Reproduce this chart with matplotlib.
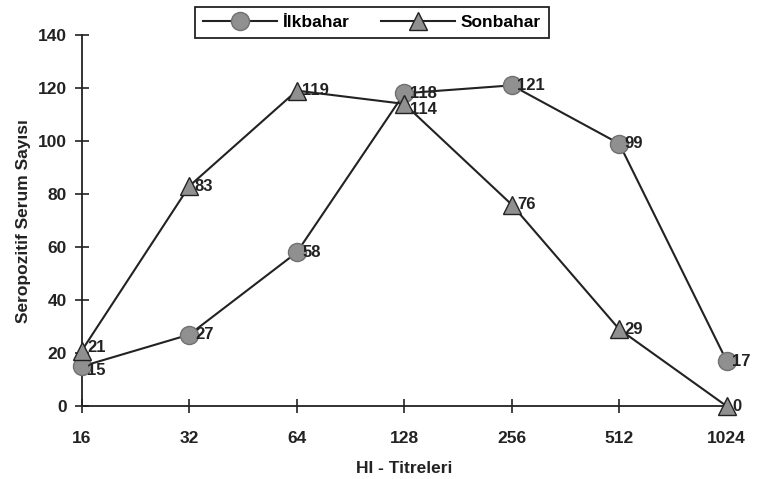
import matplotlib
matplotlib.use('Agg')

import matplotlib.pyplot as plt

titres = ['16', '32', '64', '128', '256', '512', '1024']
ilkbahar = [15, 27, 58, 118, 121, 99, 17]
sonbahar = [21, 83, 119, 114, 76, 29, 0]

plt.rcParams['font.family'] = ['Liberation Sans', 'DejaVu Sans']
plt.rcParams['font.weight'] = 'bold'

fig = plt.figure(figsize=(7.65, 4.79), dpi=100)
ax = fig.add_axes([0.107, 0.152, 0.843, 0.775])

x = list(range(len(titres)))
ax.plot(x, ilkbahar, color='#222222', lw=1.5, marker='o', markersize=13,
        markerfacecolor='#909090', markeredgecolor='#707070', label='İlkbahar', zorder=3)
ax.plot(x, sonbahar, color='#222222', lw=1.5, marker='^', markersize=13,
        markerfacecolor='#909090', markeredgecolor='#222222', label='Sonbahar', zorder=3)

# etiketler
for i, v in enumerate(ilkbahar):
    dy = -3 if i == 0 else 0
    ax.annotate(str(v), (i, v), xytext=(4, dy), textcoords='offset points',
                ha='left', va='center', fontsize=12, fontweight='bold', color='#222222')
for i, v in enumerate(sonbahar):
    dy = 2 if i == 0 else (-4 if i == 3 else 0)
    ax.annotate(str(v), (i, v), xytext=(4, dy), textcoords='offset points',
                ha='left', va='center', fontsize=12, fontweight='bold', color='#222222')

ax.set_xlim(0, 6)
ax.set_ylim(0, 140)
ax.set_xticks(x)
ax.set_xticklabels(titres)
ax.set_yticks(range(0, 141, 20))
ax.spines['top'].set_visible(False)
ax.spines['right'].set_visible(False)
for s in ['left', 'bottom']:
    ax.spines[s].set_linewidth(1.3)
    ax.spines[s].set_color('#222222')
ax.tick_params(direction='inout', length=10, width=1.2, labelsize=12.5, colors='#222222')
ax.tick_params(axis='x', pad=13)
ax.tick_params(axis='y', pad=6)
for lab in ax.get_xticklabels() + ax.get_yticklabels():
    lab.set_fontweight('bold')
ax.set_xlabel('HI - Titreleri', fontsize=12.5, fontweight='bold', labelpad=11, color='#222222')
ax.set_ylabel('Seropozitif Serum Sayısı', fontsize=12.5, fontweight='bold', labelpad=5, color='#222222')
for line in ax.lines:
    line.set_clip_on(False)

leg = fig.legend(loc='center', bbox_to_anchor=(0.486, 0.953), ncol=2, fancybox=False,
                 edgecolor='#222222', fontsize=12.5, handlelength=4.3, columnspacing=1.8,
                 handletextpad=0.3, borderpad=0.45, framealpha=1)
leg.get_frame().set_linewidth(1.3)
for t in leg.get_texts():
    t.set_fontweight('bold')

plt.savefig('out.png', dpi=100)
plt.close()
